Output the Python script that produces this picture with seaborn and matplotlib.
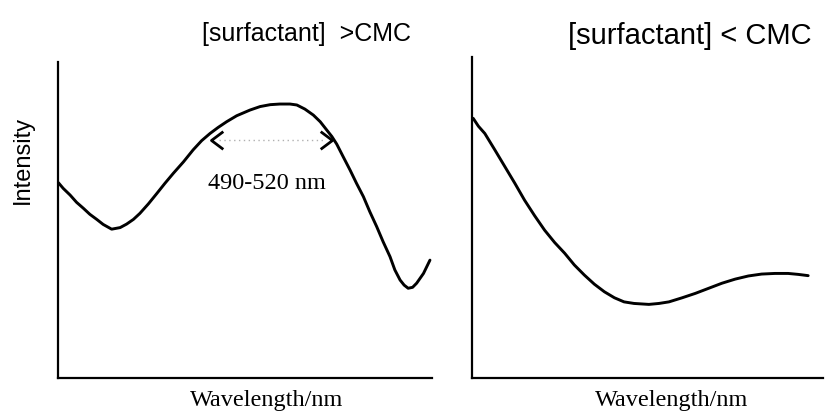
import matplotlib
matplotlib.use("Agg")
import matplotlib.pyplot as plt
from matplotlib.path import Path
import pandas as pd
import seaborn as sns

# Emission spectrum above the CMC (arbitrary intensity units)
above_wavelength = [452.1, 453.3, 455.0, 456.6, 458.3, 459.9, 461.6, 463.2, 465.3,
                    467.4, 469.0, 470.7, 472.3, 474.4, 476.5, 478.5, 480.6, 483.1,
                    485.5, 487.6, 489.7, 491.7, 493.8, 496.3, 499.6, 502.1, 504.6,
                    507.0, 509.5, 511.2, 513.2, 515.3, 517.0, 518.6, 519.9, 521.1,
                    522.7, 524.4, 526.0, 527.7, 529.3, 531.0, 532.6, 534.3, 535.5,
                    536.8, 537.8, 538.8, 539.9, 540.9, 542.6, 544.2]
above_intensity = [61.8, 60.0, 57.9, 55.6, 53.7, 51.8, 50.2, 48.6, 47.1,
                   47.6, 48.7, 50.2, 52.1, 55.1, 58.4, 61.6, 64.8, 68.4,
                   72.2, 75.1, 77.4, 79.3, 81.1, 83.0, 84.8, 85.9, 86.5,
                   86.7, 86.7, 86.4, 85.1, 83.2, 81.1, 78.5, 76.4, 74.0,
                   70.0, 65.8, 61.6, 57.4, 52.6, 47.9, 43.1, 38.4, 34.2,
                   31.0, 29.4, 28.4, 28.7, 30.0, 33.1, 37.3]

# Emission spectrum below the CMC
below_wavelength = [452.3, 453.6, 455.2, 457.7, 460.2, 462.7, 465.1, 467.6, 470.1,
                    472.6, 475.1, 477.5, 480.0, 482.5, 485.0, 487.5, 489.9, 492.4,
                    496.1, 498.6, 501.1, 504.4, 507.7, 511.0, 514.3, 517.6, 520.9,
                    524.2, 527.5, 530.8, 533.3, 535.8]
below_intensity = [82.2, 79.7, 77.4, 72.2, 66.9, 61.6, 56.3, 51.4, 46.8,
                   42.9, 39.5, 35.8, 32.6, 29.7, 27.3, 25.4, 24.1, 23.6,
                   23.3, 23.6, 24.1, 25.4, 26.8, 28.4, 30.0, 31.3, 32.3,
                   32.9, 33.1, 33.1, 32.8, 32.4]

# Band marked on the micellar spectrum
band_range = [490, 520]
band_label = "490-520 nm"
band_level = 75.3

titles = ["[surfactant]  >CMC", "[surfactant] < CMC"]
x_label = "Wavelength/nm"
y_label = "Intensity"

sns.set_theme(style="white")
plt.rcParams["font.family"] = ["Liberation Sans", "DejaVu Sans"]
serif = ["Liberation Serif", "DejaVu Serif"]

fig = plt.figure(figsize=(8.25, 4.12), dpi=100)
ax1 = fig.add_axes([0.0703, 0.0825, 0.4533, 0.767])
ax2 = fig.add_axes([0.5721, 0.0825, 0.4255, 0.7791])

df_above = pd.DataFrame({"wl": above_wavelength, "I": above_intensity})
df_below = pd.DataFrame({"wl": below_wavelength, "I": below_intensity})

line_kw = dict(color="black", lw=2.1, sort=False, clip_on=False,
               solid_joinstyle="round")
sns.lineplot(data=df_above, x="wl", y="I", ax=ax1, **line_kw)
sns.lineplot(data=df_below, x="wl", y="I", ax=ax2, **line_kw)

ax1.set_xlim(452.0, 544.7)
ax1.set_ylim(0, 100)
ax2.set_xlim(452.0, 539.5)
ax2.set_ylim(0, 101.6)

for ax in (ax1, ax2):
    sns.despine(ax=ax)
    for side in ("left", "bottom"):
        ax.spines[side].set_color("black")
        ax.spines[side].set_linewidth(1.6)
    ax.set_xticks([])
    ax.set_yticks([])
    ax.set_xlabel("")
    ax.set_ylabel("")
    ax.patch.set_alpha(0)

# Double-headed marker for the band: faint dotted shaft and open chevrons
ax1.plot([band_range[0] + 1.8, band_range[1] - 2.0], [band_level, band_level],
         ls=(0, (1, 2.5)), color="#b0b0b0", lw=1.0)
left_head = Path([(1.2, 0.9), (0, 0), (1.2, -0.9)],
                 [Path.MOVETO, Path.LINETO, Path.LINETO])
right_head = Path([(-1.2, 0.9), (0, 0), (-1.2, -0.9)],
                  [Path.MOVETO, Path.LINETO, Path.LINETO])
ax1.plot([band_range[0]], [band_level], marker=left_head, ms=17,
         mfc="none", mec="black", mew=2.0, ls="none")
ax1.plot([band_range[1]], [band_level], marker=right_head, ms=17,
         mfc="none", mec="black", mew=2.0, ls="none")
ax1.text(sum(band_range) / 2 - 1.2, 61.4, band_label, ha="center", va="center",
         fontsize=17.5, family=serif, color="black")

# Titles and axis labels
fig.text(0.372, 0.918, titles[0], ha="center", va="center", fontsize=18,
         color="black")
fig.text(0.836, 0.913, titles[1], ha="center", va="center", fontsize=21,
         color="black")
for xc in (0.3236, 0.8145):
    fig.text(xc, 0.029, x_label, ha="center", va="center", fontsize=17.5,
             family=serif, color="black")
fig.text(0.028, 0.612, y_label, ha="center", va="center", rotation=90,
         fontsize=17, color="black")

fig.savefig("out.png", dpi=100, facecolor="white")
